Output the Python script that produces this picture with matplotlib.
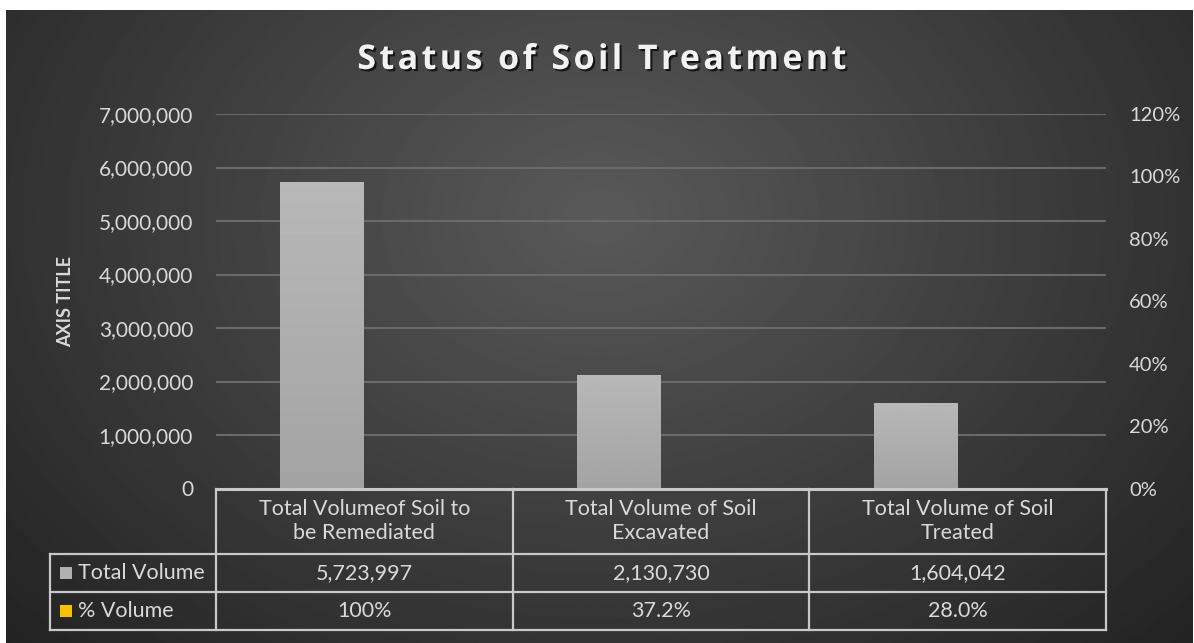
import numpy as np
import matplotlib
matplotlib.use("Agg")
import matplotlib.pyplot as plt
import matplotlib.patheffects as pe
from matplotlib.ticker import FuncFormatter, MultipleLocator

plt.rcParams['font.family'] = ['Lato', 'DejaVu Sans']

title = "Status of Soil Treatment"
categories = ["Total Volumeof Soil to\nbe Remediated",
              "Total Volume of Soil\nExcavated",
              "Total Volume of Soil\nTreated"]
total_volume = [5723997, 2130730, 1604042]
pct_volume = [1.0, 0.372, 0.280]
pct_labels = ["100%", "37.2%", "28.0%"]
series_names = ["Total Volume", "% Volume"]

W, H = 1194, 643
fig = plt.figure(figsize=(W / 100, H / 100), dpi=100)
fig.patch.set_facecolor("white")


def fx(x):
    return x / W


def fy(y):
    return 1 - y / H


# dark radial background, small white strip at top/left
bg = fig.add_axes([fx(6), 0, fx(W - 7), fy(10)])
bg.set_axis_off()
yy, xx = np.mgrid[0:400, 0:700]
cx, cy = 350, 130
r = np.sqrt(((xx - cx) / 520.0) ** 2 + ((yy - cy) / 420.0) ** 2)
shade = np.clip(0.35 - 0.23 * r, 0.12, 0.35)
bg.imshow(shade, cmap="gray", vmin=0, vmax=1, aspect="auto",
          extent=[0, 1, 0, 1], origin="upper")
bg.set_xlim(0, 1)
bg.set_ylim(0, 1)

# main axes
left, right, top, bottom = 216, 1106, 114, 488.5
ax = fig.add_axes([fx(left), fy(bottom), fx(right - left), (bottom - top) / H])
ax.patch.set_alpha(0)
x = np.arange(len(categories))
bw = 0.283
bars = ax.bar(x - bw / 2, total_volume, width=bw, color="#adadad", zorder=3)
# % Volume sits on the primary axis too, so it is practically flat
ax.bar(x + bw / 2, pct_volume, width=bw, color="#f5c000", zorder=1, linewidth=0)

grad = np.linspace(0.72, 0.64, 100).reshape(-1, 1)
for b in bars:
    x0, y0 = b.get_x(), b.get_y()
    im = ax.imshow(grad, cmap="gray", vmin=0, vmax=1, aspect="auto",
                   extent=[x0, x0 + b.get_width(), y0, y0 + b.get_height()],
                   zorder=4, origin="upper")
    im.set_clip_path(b)

ax.set_xlim(-0.5, 2.5)
ax.set_ylim(0, 7000000)
ax.yaxis.set_major_locator(MultipleLocator(1000000))
ax.yaxis.set_major_formatter(FuncFormatter(lambda v, p: f"{int(v):,}"))
ax.grid(axis="y", color="#6a6a6a", linewidth=1.5, zorder=0)
ax.set_xticks([])
for s in ["top", "right", "left"]:
    ax.spines[s].set_visible(False)
ax.spines["bottom"].set_color("#c8c8c8")
ax.spines["bottom"].set_linewidth(2.2)
ax.spines["bottom"].set_zorder(5)
ax.tick_params(axis="y", length=0, pad=16.5, labelsize=15, labelcolor="#d9d9d9")
ax.set_ylabel("AXIS TITLE", fontsize=13, fontweight="bold", color="#d9d9d9",
              labelpad=18)

ax2 = ax.twinx()
ax2.set_ylim(0, 1.2)
ax2.yaxis.set_major_locator(MultipleLocator(0.2))
ax2.yaxis.set_major_formatter(FuncFormatter(lambda v, p: f"{v * 100:.0f}%"))
ax2.tick_params(axis="y", length=0, pad=16.5, labelsize=14.5, labelcolor="#d9d9d9")
for s in ax2.spines.values():
    s.set_visible(False)

# title, letter-spaced with hair spaces
spaced = "\u200a".join(title)
fig.text(fx(601), fy(60), spaced, ha="center", va="center",
         fontsize=24.5, fontweight="bold", color="#f2f2f2",
         family=["Open Sans", "DejaVu Sans"],
         path_effects=[pe.SimplePatchShadow(offset=(1.5, -1.5), shadow_rgbFace="black", alpha=0.7),
                       pe.Normal()])

# data table below the axis
lc, lw = "#c8c8c8", 1.6
row_tops = [488.5, 554, 592, 630]
col_w = (right - left) / len(categories)
col_edges = [left + i * col_w for i in range(len(categories) + 1)]
tx = fig.transFigure
for xe in col_edges:
    fig.add_artist(plt.Line2D([fx(xe), fx(xe)], [fy(row_tops[0]), fy(row_tops[3])],
                              color=lc, lw=lw, transform=tx))
for yr in row_tops[1:]:
    fig.add_artist(plt.Line2D([fx(50), fx(right)], [fy(yr), fy(yr)],
                              color=lc, lw=lw, transform=tx))
fig.add_artist(plt.Line2D([fx(50), fx(50)], [fy(row_tops[1]), fy(row_tops[3])],
                          color=lc, lw=lw, transform=tx))

tc = "#d9d9d9"
fs = 15.5
for i, cat in enumerate(categories):
    cxp = (col_edges[i] + col_edges[i + 1]) / 2
    fig.text(fx(cxp), fy(521), cat, ha="center", va="center", fontsize=fs,
             color=tc, linespacing=1.3)
    fig.text(fx(cxp), fy(573), f"{total_volume[i]:,}", ha="center", va="center",
             fontsize=fs, color=tc)
    fig.text(fx(cxp), fy(611), pct_labels[i], ha="center", va="center",
             fontsize=fs, color=tc)

key_colors = ["#b0b0b0", "#f5c000"]
for k, (name, kc) in enumerate(zip(series_names, key_colors)):
    yc = 573 + k * 38
    fig.add_artist(plt.Rectangle((fx(60), fy(yc + 6)), fx(12), 12 / H,
                                 facecolor=kc, edgecolor="none", transform=tx))
    fig.text(fx(78), fy(yc), name, ha="left", va="center", fontsize=fs, color=tc)

fig.savefig("out.png", dpi=100)
